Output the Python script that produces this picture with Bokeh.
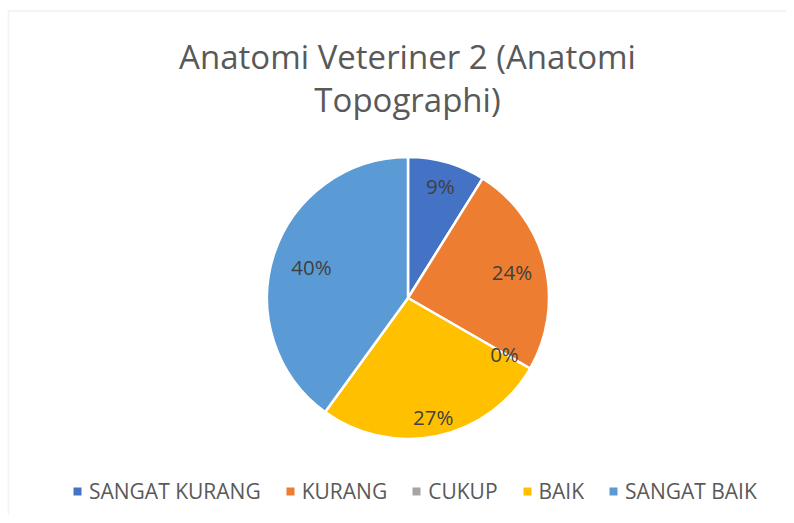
import math
from bokeh.plotting import figure
from bokeh.models import ColumnDataSource, Range1d, Label, Legend, LegendItem, BoxAnnotation
from bokeh.core.properties import value
from bokeh.embed import file_html
from bokeh.resources import INLINE

# ---- data ----
categories = ["SANGAT KURANG", "KURANG", "CUKUP", "BAIK", "SANGAT BAIK"]
counts = [4, 11, 0, 12, 18]
colors = ["#4472C4", "#ED7D31", "#A5A5A5", "#FFC000", "#5B9BD5"]
title_lines = ["Anatomi Veteriner 2 (Anatomi", "Topographi)"]

# radial placement of each data label (fraction of radius, "best fit" look)
label_radius = [0.83, 0.76, 0.79, 0.86, 0.72]

W, H = 786, 515
FONT = "Open Sans"

p = figure(width=W, height=H, output_backend="svg", toolbar_location=None,
           x_range=Range1d(0, W), y_range=Range1d(0, H),
           x_axis_type=None, y_axis_type=None, min_border=0)
p.grid.visible = False
p.outline_line_color = None
p.background_fill_color = "white"
p.border_fill_color = "white"

# chart border (top/left visible; right/bottom run off the page)
p.add_layout(BoxAnnotation(left=8, right=W + 50, top=H - 10.5, bottom=-50,
                           fill_alpha=0, line_color="#D9D9D9", line_width=2))

# ---- pie ----
cx, cy, r = 407.5, H - 297.5, 141
total = sum(counts)
starts, ends, mids, pct = [], [], [], []
cum = 0
for c in counts:
    a0 = cum / total * 2 * math.pi
    cum += c
    a1 = cum / total * 2 * math.pi
    starts.append(math.pi / 2 - a1)
    ends.append(math.pi / 2 - a0)
    mids.append(math.pi / 2 - (a0 + a1) / 2)
    pct.append(f"{round(c / total * 100)}%")

# legend swatches (zero-size marks, only their legend entries are visible)
leg_src = ColumnDataSource(dict(x=[cx] * len(categories), y=[cy] * len(categories),
                                color=colors))
swatch = p.scatter(x="x", y="y", size=0, marker="square", fill_color="color",
                   line_color=None, source=leg_src)

nz = [i for i, c in enumerate(counts) if c > 0]
wsrc = ColumnDataSource(dict(
    x=[cx] * len(nz), y=[cy] * len(nz),
    start=[starts[i] for i in nz], end=[ends[i] for i in nz],
    color=[colors[i] for i in nz]))
p.wedge(x="x", y="y", radius=r, start_angle="start", end_angle="end",
        direction="anticlock", fill_color="color", line_color="white",
        line_width=2.5, source=wsrc)

lsrc = ColumnDataSource(dict(
    x=[cx + r * f * math.cos(m) for m, f in zip(mids, label_radius)],
    y=[cy + r * f * math.sin(m) for m, f in zip(mids, label_radius)],
    t=pct))
p.text(x="x", y="y", text="t", source=lsrc, text_align="center",
       text_baseline="middle", text_font=value(FONT), text_font_size="20.5px",
       text_color="#404040")

# ---- title ----
for i, line in enumerate(title_lines):
    p.add_layout(Label(x=407, y=H - 56 - 43 * i, text=line, text_align="center",
                       text_baseline="middle", text_font=FONT,
                       text_font_size="33px", text_color="#595959"))

# ---- legend ----
items = [LegendItem(label=cat, renderers=[swatch], index=i)
         for i, cat in enumerate(categories)]
legend = Legend(items=items, location=(67, H - 505), orientation="horizontal",
                glyph_width=20, glyph_height=20, label_standoff=2, spacing=19,
                padding=0, margin=0, border_line_color=None,
                background_fill_alpha=0, label_text_font=FONT,
                label_text_font_size="21px", label_text_color="#595959",
                label_height=20, label_text_baseline="middle")
p.add_layout(legend)

open("out.html", "w").write(file_html(p, INLINE))
